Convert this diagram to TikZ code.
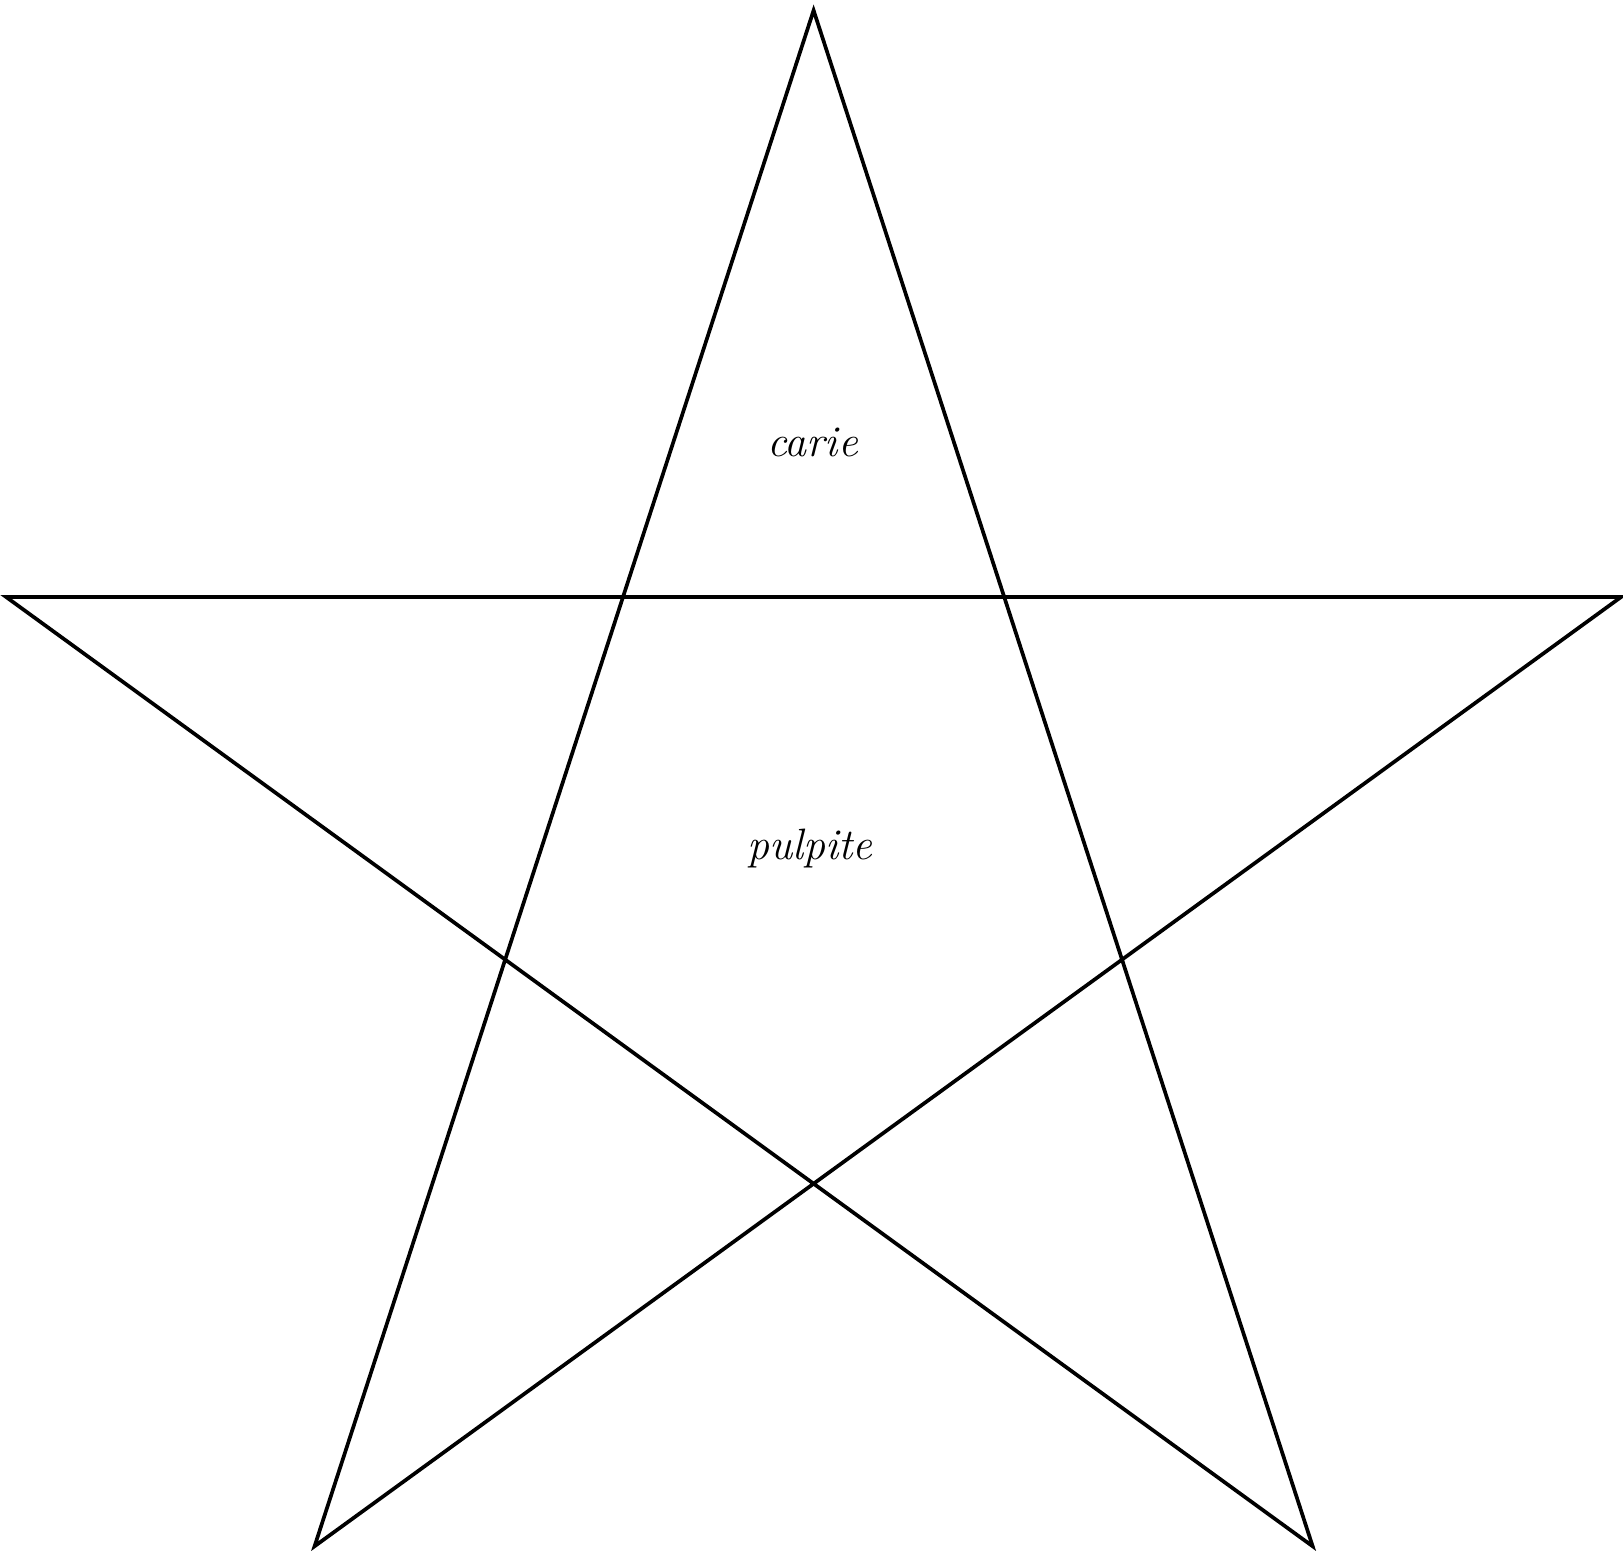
\documentclass[tikz,border=0pt]{standalone}
\usepackage{tikz}
\usetikzlibrary{calc}

\begin{document}
\begin{tikzpicture}[
    edge/.style={draw, line width=1.05pt},
    label/.style={font=\itshape\fontsize{12.5}{15}\selectfont, anchor=base, inner sep=0pt}
]
\useasboundingbox (0, 0) rectangle (16.23, 15.51);
% Centre of the star
\coordinate (c) at (8.136, 6.916);

% Star points
\foreach \i/\a in {1/90, 2/162, 3/234, 4/306, 5/18} {
    \coordinate (p\i) at ($(c) + (\a:8.49)$);
}

% Edges
\draw[edge] (p1) -- (p3) -- (p5) -- (p2) -- (p4) -- cycle;

% Labels
\node[label] (carie) at (8.125, 10.94) {carie};
\node[label] (pulpite) at (8.10, 6.91) {pulpite};
\end{tikzpicture}
\end{document}
